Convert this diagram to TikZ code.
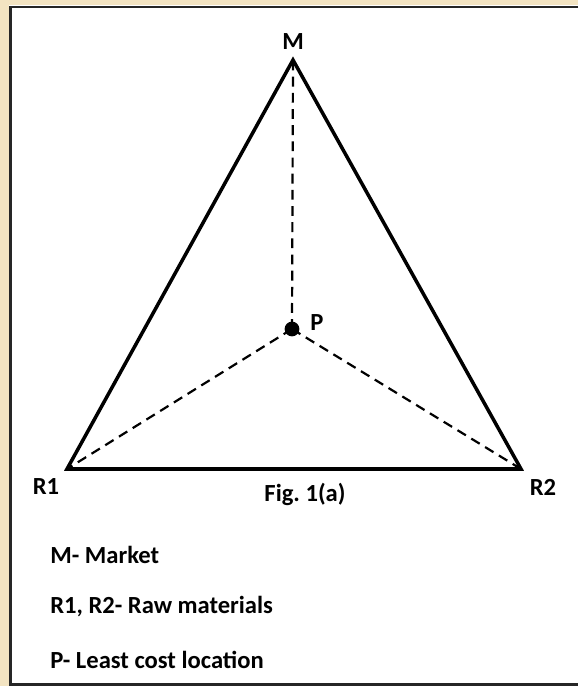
\documentclass[tikz,border=0pt]{standalone}
\usepackage{fontspec}
\setmainfont{Carlito}
\usetikzlibrary{positioning,calc}
\definecolor{figBeige}{HTML}{F3E4C2}
\definecolor{figFrame}{HTML}{262626}
\definecolor{figLine}{HTML}{000000}

\begin{document}
\begin{tikzpicture}[x=0.02cm, y=-0.02cm]

% --- PAGE AND FRAME ---
\fill[figBeige] (0,0) rectangle (578,686);
\fill[white] (9,5) rectangle (578,686);
\useasboundingbox (0,0) rectangle (578,686);
\draw[figFrame, line width=1.7pt]
  (578,7) -- (10.5,7) -- (10.5,684.5) -- (578,684.5);

\tikzset{
  side/.style={figLine, line width=2pt, line join=miter},
  toP/.style={figLine, line width=1.25pt, dash pattern=on 5.6pt off 3.6pt},
  lab/.style={font=\fontsize{14}{16}\selectfont\bfseries, inner sep=0pt},
  key/.style={lab, anchor=west}
}

% --- VERTICES ---
\coordinate (M)  at (293,60);
\coordinate (R1) at (67,469);
\coordinate (R2) at (521,469);
\coordinate (P)  at (292,329);

% --- DASHED LINKS TO P ---
\draw[toP] (P) -- (M);
\draw[toP] (P) -- (R1);
\draw[toP] (P) -- (R2);

% --- TRIANGLE ---
\draw[side] (M) -- (R2) -- (R1) -- cycle;
\fill[figLine] (P) circle (4.2pt);

% --- LABELS ---
\node[lab] (mLab)  at (293,42)  {M};
\node[lab] (pLab)  at (317,323) {P};
\node[lab] (r1Lab) at (46,487)  {R1};
\node[lab] (r2Lab) at (543,487) {R2};
\node[lab] (fig)   at (305,494) {Fig.\ 1(a)};

% --- KEY ---
\node[key] (keyM) at (50,555) {M- Market};
\node[key] (keyR) at (50,607) {R1, R2- Raw materials};
\node[key] (keyP) at (50,660) {P- Least cost location};

\end{tikzpicture}
\end{document}
